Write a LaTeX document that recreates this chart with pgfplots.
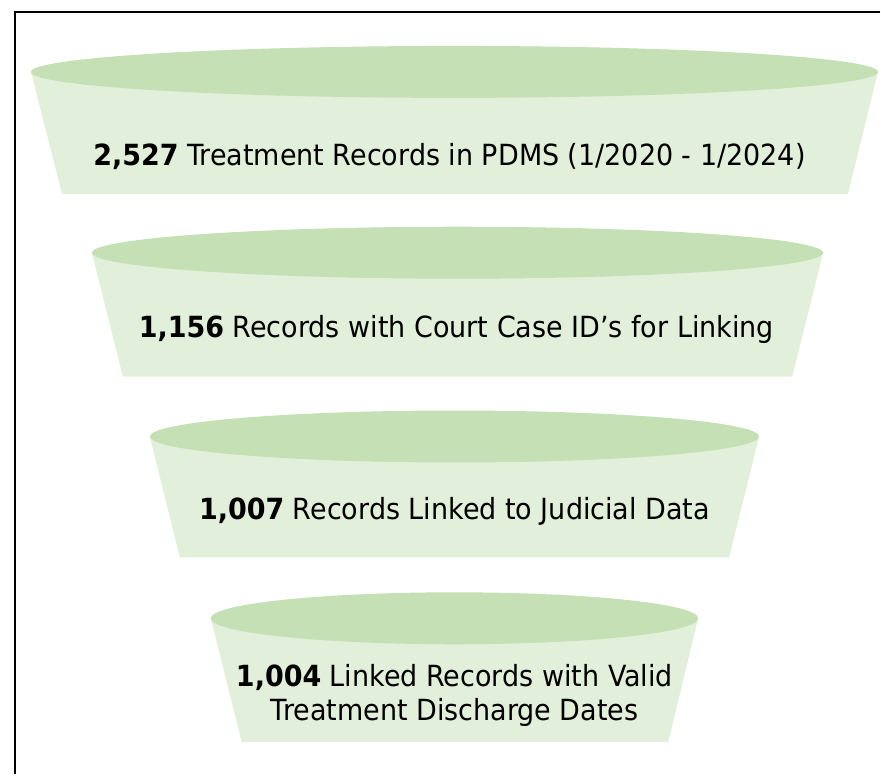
\documentclass[border=0pt]{standalone}
\usepackage{fontspec}
\setmainfont{DejaVu Sans}
\usepackage{pgfplots}
\pgfplotsset{compat=1.18}
\definecolor{topgreen}{HTML}{C5E0B4}
\definecolor{bodygreen}{HTML}{E2EFDA}
\newcommand{\tall}[1]{\scalebox{1}[1.08]{#1}}
\begin{document}
\begin{tikzpicture}
\begin{axis}[
  width=881pt, height=775pt, scale only axis,
  xmin=0, xmax=881, ymin=0, ymax=775,
  hide axis, clip=false,
]
% full canvas extent
\path (axis cs:0,0) rectangle (axis cs:881,775);
% stage bodies (trapezoids), pixel coordinates with y measured upward
\addplot[fill=bodygreen, draw=none] coordinates {(31,703) (879,703) (849,581) (62,581)} -- cycle;
\addplot[fill=bodygreen, draw=none] coordinates {(92,522) (824,522) (793,398) (123,398)} -- cycle;
\addplot[fill=bodygreen, draw=none] coordinates {(150,338) (760,338) (730,217) (180,217)} -- cycle;
\addplot[fill=bodygreen, draw=none] coordinates {(211,156) (699,156) (669,32) (242,32)} -- cycle;
% stage tops
\fill[topgreen] (axis cs:455,703) ellipse [x radius=424, y radius=26];
\fill[topgreen] (axis cs:458,522) ellipse [x radius=366, y radius=26];
\fill[topgreen] (axis cs:455,338) ellipse [x radius=305, y radius=26];
\fill[topgreen] (axis cs:455,156) ellipse [x radius=244, y radius=26];
% labels
\node[font=\fontsize{27}{33}\selectfont] at (axis cs:450,618) {\tall{\textbf{2,527} Treatment Records in PDMS (1/2020 - 1/2024)}};
\node[font=\fontsize{27}{33}\selectfont] at (axis cs:457,445) {\tall{\textbf{1,156} Records with Court Case ID’s for Linking}};
\node[font=\fontsize{27}{33}\selectfont] at (axis cs:455,263) {\tall{\textbf{1,007} Records Linked to Judicial Data}};
\node[font=\fontsize{27}{33}\selectfont] at (axis cs:455,78) {\tall{\begin{tabular}{@{}c@{}}\textbf{1,004} Linked Records with Valid\\[-1pt]Treatment Discharge Dates\end{tabular}}};
% frame
\draw[line width=2pt, black] (axis cs:881,763) -- (axis cs:15,763) -- (axis cs:15,0);
\end{axis}
\end{tikzpicture}
\end{document}
